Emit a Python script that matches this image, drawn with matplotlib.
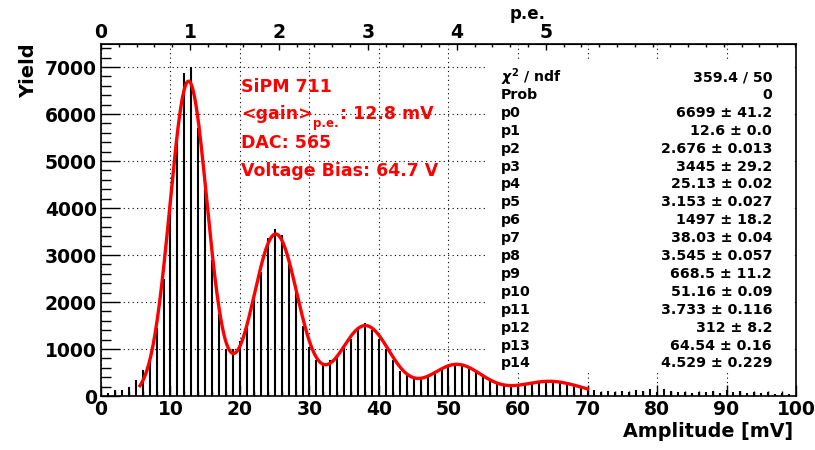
import numpy as np
import matplotlib
matplotlib.use("Agg")
import matplotlib.pyplot as plt
from matplotlib.ticker import MultipleLocator
from matplotlib.transforms import blended_transform_factory
from matplotlib.patches import Rectangle

plt.rcParams["font.family"] = ["DejaVu Sans"]
plt.rcParams["font.weight"] = "bold"
plt.rcParams["mathtext.fontset"] = "dejavusans"

# histogram: one bin per mV
amp_mv = np.arange(0, 100)
counts = [40, 60, 120, 130, 200, 350, 560, 720, 1450, 2490,
          4200, 5500, 6870, 7000, 5700, 4400, 2900, 1750, 1010, 1000,
          1180, 1450, 2050, 2640, 3370, 3560, 3420, 2850, 2250, 1500,
          1040, 760, 650, 760, 830, 1080, 1220, 1410, 1560, 1400,
          1220, 990, 760, 540, 440, 370, 370, 440, 530, 580,
          650, 690, 650, 580, 510, 420, 345, 275, 240, 225,
          240, 260, 275, 295, 310, 315, 300, 275, 225, 190,
          150, 120, 90, 100, 80, 110, 90, 120, 100, 140,
          90, 150, 100, 80, 90, 70, 90, 80, 110, 60,
          130, 80, 100, 60, 90, 60, 80, 50, 60, 40]

# fit: sum of 5 gaussians (p0..p14)
fit_amp = [6699, 3445, 1497, 668.5, 312]
fit_mean = [12.6, 25.13, 38.03, 51.16, 64.54]
fit_sigma = [2.676, 3.153, 3.545, 3.733, 4.529]
fit_lo, fit_hi = 5.6, 70.0

stat_labels = [r"$\chi^{2}$ / ndf", "Prob"] + ["p%d" % i for i in range(15)]
stat_values = ["359.4 / 50", "0",
               "6699 ± 41.2", "12.6 ± 0.0", "2.676 ± 0.013",
               "3445 ± 29.2", "25.13 ± 0.02", "3.153 ± 0.027",
               "1497 ± 18.2", "38.03 ± 0.04", "3.545 ± 0.057",
               "668.5 ± 11.2", "51.16 ± 0.09", "3.733 ± 0.116",
               "312 ± 8.2", "64.54 ± 0.16", "4.529 ± 0.229"]

sipm_text = "SiPM 711"
gain_parts = ["<gain>", "p.e.", ": 12.8 mV"]
dac_text = "DAC: 565"
bias_text = "Voltage Bias: 64.7 V"
gain_mv = 12.8
pe_ticks = [0, 1, 2, 3, 4, 5]

fig = plt.figure(figsize=(8.15, 4.5), dpi=100)
ax = fig.add_axes([0.1239, 0.12, 0.8528, 0.7833])

ax.vlines(amp_mv, 0, counts, color="black", lw=1.5, zorder=2)

x_fit = np.linspace(fit_lo, fit_hi, 600)
y_fit = np.zeros_like(x_fit)
for a, m, s in zip(fit_amp, fit_mean, fit_sigma):
    y_fit += a * np.exp(-0.5 * ((x_fit - m) / s) ** 2)
ax.plot(x_fit, y_fit, color="#ff0000", lw=2.4, zorder=3)

ax.set_xlim(0, 100)
ax.set_ylim(0, 7500)
ax.xaxis.set_major_locator(MultipleLocator(10))
ax.xaxis.set_minor_locator(MultipleLocator(2))
ax.yaxis.set_major_locator(MultipleLocator(1000))
ax.yaxis.set_minor_locator(MultipleLocator(200))
ax.grid(True, which="major", color="black", ls=(0, (1, 3)), lw=0.8, zorder=1)
ax.tick_params(axis="x", which="major", direction="in", length=7.6, width=1, labelsize=13.5, pad=3)
ax.tick_params(axis="x", which="minor", direction="in", length=3.8, width=1)
ax.tick_params(axis="y", which="major", direction="in", length=13.5, width=1, labelsize=13.5, pad=3)
ax.tick_params(axis="y", which="minor", direction="in", length=7, width=1)
for sp in ax.spines.values():
    sp.set_linewidth(1.2)

ax.set_xlabel("Amplitude [mV]", fontsize=13.8, fontweight="bold", loc="right")
ax.xaxis.set_label_coords(0.9957, -0.074)
ax.set_ylabel("Yield", fontsize=14, fontweight="bold", loc="top")
ax.yaxis.set_label_coords(-0.0906, 1.0)

# p.e. axis on top
sec = ax.secondary_xaxis("top", functions=(lambda x: x / gain_mv, lambda p: p * gain_mv))
sec.set_xticks(pe_ticks)
sec.xaxis.set_minor_locator(MultipleLocator(0.2))
sec.tick_params(which="major", direction="in", length=4.5, width=1, labelsize=13.5, pad=1)
sec.tick_params(which="minor", direction="in", length=2.2, width=1)
for lbl in sec.get_xticklabels():
    lbl.set_fontweight("bold")
trans = blended_transform_factory(ax.transData, ax.transAxes)
ax.text(pe_ticks[-1] * gain_mv, 1.0837, "p.e.", transform=trans, ha="right", va="center",
        fontsize=12, fontweight="bold")

# stats box
ax.add_patch(Rectangle((0.555, 0.068), 0.442, 0.8795, transform=ax.transAxes,
                       facecolor="white", edgecolor="none", zorder=4))
for i, (lab, val) in enumerate(zip(stat_labels, stat_values)):
    ypix = 77 + 17.9 * i
    yf = (396 - ypix) / 352.5
    ax.text((501 - 101) / 695, yf, lab, transform=ax.transAxes, ha="left", va="center",
            fontsize=10.2, fontweight="bold", zorder=5)
    ax.text((772 - 101) / 695, yf, val, transform=ax.transAxes, ha="right", va="center",
            fontsize=10.2, fontweight="bold", zorder=5)

# red info text
red = "#ff0000"
x_info = 0.2014
kw = dict(transform=ax.transAxes, ha="left", va="baseline", color=red,
          fontsize=12.5, fontweight="bold", zorder=5)
ax.text(x_info, (396 - 92) / 352.5, sipm_text, **kw)
t_gain = ax.text(x_info, (396 - 119) / 352.5, gain_parts[0], **kw)
t_sub = ax.annotate(gain_parts[1], xy=(1, 0), xycoords=t_gain, xytext=(0.5, -3),
                    textcoords="offset points", ha="left", va="baseline", color=red,
                    fontsize=8.5, fontweight="bold", zorder=5)
ax.annotate(gain_parts[2], xy=(1, 0), xycoords=(t_sub, t_gain), xytext=(0.5, 0),
            textcoords="offset points", ha="left", va="bottom", color=red,
            fontsize=12.5, fontweight="bold", zorder=5)
ax.text(x_info, (396 - 148) / 352.5, dac_text, **kw)
ax.text(x_info, (396 - 176) / 352.5, bias_text, **kw)

fig.savefig("out.png", dpi=100)
